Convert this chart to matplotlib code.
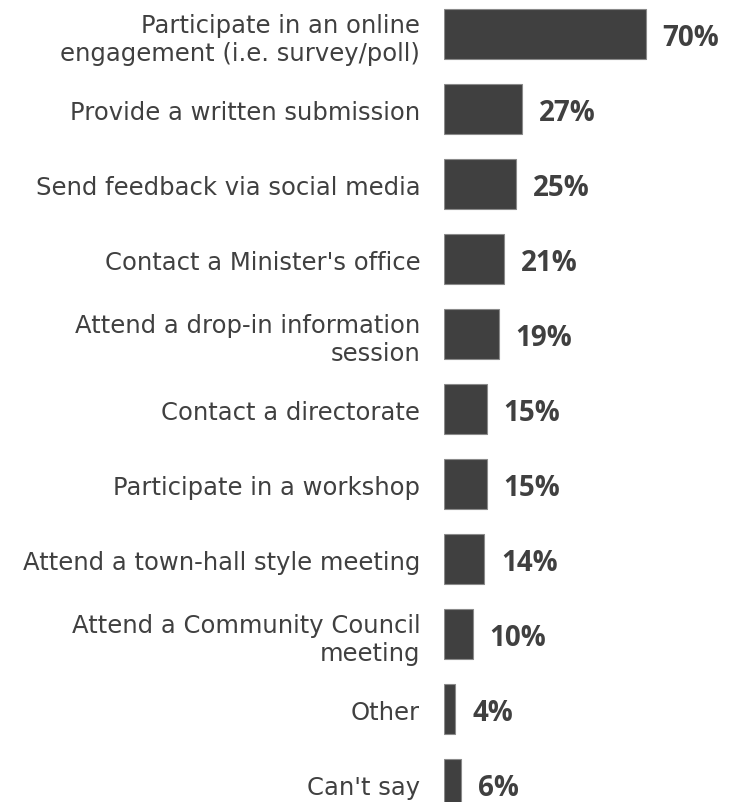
import matplotlib
matplotlib.use('Agg')
import matplotlib.pyplot as plt
import numpy as np

categories = ['Participate in an online\nengagement (i.e. survey/poll)',
              'Provide a written submission',
              'Send feedback via social media',
              "Contact a Minister's office",
              'Attend a drop-in information\nsession',
              'Contact a directorate',
              'Participate in a workshop',
              'Attend a town-hall style meeting',
              'Attend a Community Council\nmeeting',
              'Other',
              "Can't say"]
values = [70, 27, 25, 21, 19, 15, 15, 14, 10, 4, 6]

dark = '#404040'

fig = plt.figure(figsize=(7.36, 8.03), dpi=100)
ax = fig.add_axes([0.603, 0.0, 0.397, 1.0])
y = np.arange(len(categories))
ax.barh(y, values, height=0.667, color=dark, edgecolor='#8a8a8a', linewidth=0.8)

# value labels to the right of each bar
for yi, v in zip(y, values):
    ax.annotate(f'{v}%', (v, yi), xytext=(12, -2.5), textcoords='offset points',
                ha='left', va='center', fontsize=20, fontweight='bold',
                family='Open Sans', color=dark)

ax.set_yticks(y)
ax.set_yticklabels(categories, fontsize=17.5, color=dark, family='DejaVu Sans',
                   linespacing=1.25)
ax.tick_params(axis='y', length=0, pad=17)
ax.set_xticks([])
ax.set_xlim(0, 101.2)
ax.set_ylim(10.24, -0.467)
for s in ax.spines.values():
    s.set_visible(False)

fig.savefig('out.png', dpi=100)
plt.close('all')
